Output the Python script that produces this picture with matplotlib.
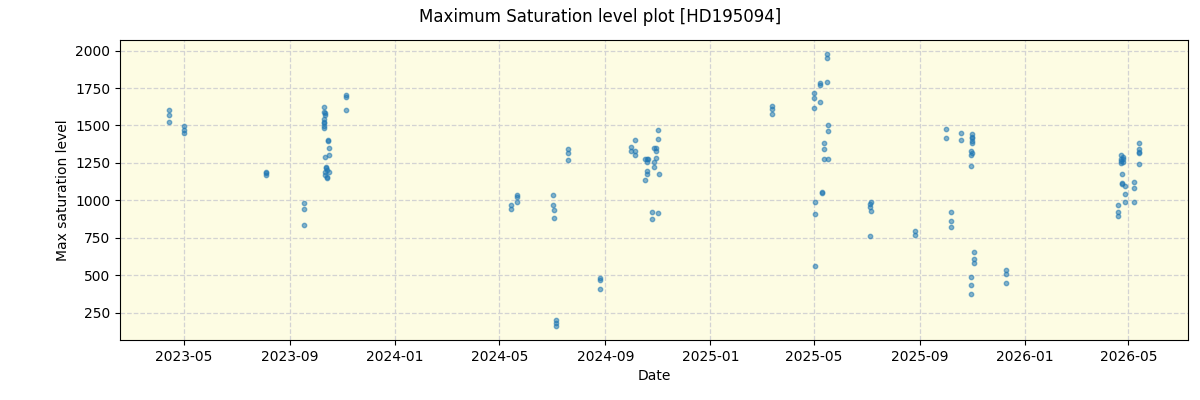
import matplotlib
matplotlib.use("Agg")
import matplotlib.pyplot as plt
import matplotlib.dates as mdates
import pandas as pd

dates = [
    "2023-04-13", "2023-04-13", "2023-04-13",
    "2023-05-01", "2023-05-01", "2023-05-01",
    "2023-08-04", "2023-08-04", "2023-08-04",
    "2023-09-17", "2023-09-17", "2023-09-17",
    "2023-10-11", "2023-10-11", "2023-10-12", "2023-10-12", "2023-10-11", "2023-10-10",
    "2023-10-10", "2023-10-10", "2023-10-10",
    "2023-10-15", "2023-10-15", "2023-10-16", "2023-10-16", "2023-10-12", "2023-10-13",
    "2023-10-13", "2023-10-14", "2023-10-12", "2023-10-16", "2023-10-12", "2023-10-14", "2023-10-14",
    "2023-11-05", "2023-11-05", "2023-11-05",
    "2024-05-15", "2024-05-15", "2024-05-21", "2024-05-21", "2024-05-21",
    "2024-07-02", "2024-07-02", "2024-07-04", "2024-07-04", "2024-07-06", "2024-07-06", "2024-07-06",
    "2024-07-20", "2024-07-20", "2024-07-20",
    "2024-08-26", "2024-08-26", "2024-08-26",
    "2024-10-05", "2024-10-01", "2024-10-01", "2024-10-05", "2024-10-05",
    "2024-10-17", "2024-10-19", "2024-10-21", "2024-10-19", "2024-10-19", "2024-10-19", "2024-10-17",
    "2024-10-25", "2024-11-01", "2024-10-25",
    "2024-10-27", "2024-10-30", "2024-10-30", "2024-10-30", "2024-10-27", "2024-10-27", "2024-11-02",
    "2024-11-01", "2024-11-01",
    "2025-03-14", "2025-03-14", "2025-03-14",
    "2025-05-01", "2025-05-01", "2025-05-01",
    "2025-05-08", "2025-05-08", "2025-05-08",
    "2025-05-16", "2025-05-16", "2025-05-16",
    "2025-05-17", "2025-05-17",
    "2025-05-13", "2025-05-13", "2025-05-13", "2025-05-17",
    "2025-05-11", "2025-05-11",
    "2025-05-02", "2025-05-02", "2025-05-02",
    "2025-07-06", "2025-07-05", "2025-07-05", "2025-07-06", "2025-07-05",
    "2025-08-26", "2025-08-26",
    "2025-10-01", "2025-10-01",
    "2025-10-07", "2025-10-07", "2025-10-07",
    "2025-10-19", "2025-10-19",
    "2025-11-01", "2025-11-01", "2025-11-01", "2025-11-01", "2025-11-01",
    "2025-10-30", "2025-11-01", "2025-10-30", "2025-10-30",
    "2025-11-03", "2025-11-03", "2025-11-03",
    "2025-10-31", "2025-10-31", "2025-10-31",
    "2025-12-10", "2025-12-10", "2025-12-10",
    "2026-04-19", "2026-04-19", "2026-04-19",
    "2026-04-22", "2026-04-22", "2026-04-22", "2026-04-22", "2026-04-25", "2026-04-25", "2026-04-25",
    "2026-04-24", "2026-04-24", "2026-04-24",
    "2026-04-27", "2026-04-27", "2026-04-27",
    "2026-05-08", "2026-05-08", "2026-05-08",
    "2026-05-13", "2026-05-13", "2026-05-14", "2026-05-14", "2026-05-13",
]

values = [
    1605, 1569, 1522,
    1495, 1470, 1448,
    1187, 1180, 1167,
    981, 945, 838,
    1623, 1589, 1582, 1573, 1544, 1526,
    1515, 1497, 1482,
    1403, 1399, 1348, 1301, 1287, 1224,
    1213, 1202, 1191, 1187, 1169, 1157, 1147,
    1703, 1690, 1602,
    968, 945, 1035, 1023, 986,
    1037, 972, 936, 885, 203, 178, 158,
    1341, 1314, 1267,
    483, 469, 409,
    1401, 1354, 1332, 1330, 1301,
    1278, 1278, 1278, 1256, 1196, 1173, 1133,
    925, 918, 872,
    1348, 1348, 1328, 1281, 1254, 1220, 1175,
    1468, 1408,
    1633, 1611, 1576,
    1716, 1683, 1616,
    1783, 1772, 1656,
    1980, 1953, 1792,
    1502, 1462,
    1381, 1341, 1276, 1276,
    1057, 1046,
    986, 912, 563,
    986, 973, 956, 932, 765,
    793, 771,
    1479, 1415,
    919, 865, 825,
    1452, 1401,
    1444, 1426, 1415, 1399, 1385,
    1330, 1314, 1303, 1227,
    657, 610, 583,
    490, 436, 376,
    536, 510, 449,
    966, 925, 892,
    1301, 1274, 1262, 1247, 1287, 1274, 1254,
    1173, 1113, 1108,
    1093, 1041, 992,
    1120, 1080, 986,
    1381, 1341, 1325, 1314, 1240,
]

x = pd.to_datetime(dates)

fig, ax = plt.subplots(figsize=(12, 4), dpi=100)
ax.set_facecolor("#fdfce3")
ax.scatter(x, values, s=10, color="tab:blue", alpha=0.55, zorder=3)
ax.grid(True, linestyle="--", color="lightgray", linewidth=0.9, zorder=0)
ax.set_axisbelow(True)
ax.xaxis.set_major_locator(mdates.MonthLocator(bymonth=[1, 5, 9]))
ax.xaxis.set_major_formatter(mdates.DateFormatter("%Y-%m"))
ax.set_xlabel("Date")
ax.set_ylabel("Max saturation level")
fig.suptitle("Maximum Saturation level plot [HD195094]")
fig.subplots_adjust(left=0.1, right=0.99, top=0.9, bottom=0.15)
fig.savefig("out.png")
